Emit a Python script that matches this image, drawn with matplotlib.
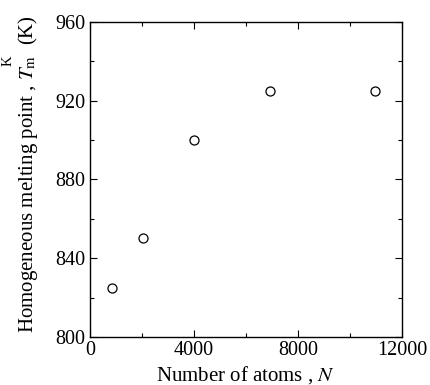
import matplotlib
matplotlib.use("Agg")
import matplotlib.pyplot as plt
from matplotlib.ticker import MultipleLocator

# number of atoms and melting point
n_atoms = [864, 2048, 4000, 6912, 10976]
t_melt = [825, 850, 900, 925, 925]

plt.rcParams['font.family'] = ['Liberation Serif', 'DejaVu Serif']
plt.rcParams['mathtext.fontset'] = 'stix'

W, H = 430, 385
fig = plt.figure(figsize=(W / 100, H / 100), dpi=100)
ax = fig.add_axes([0.209, 0.125, 0.726, 0.818])

ax.plot(n_atoms, t_melt, linestyle='none', marker='o', markersize=6.5,
        markerfacecolor='white', markeredgecolor='black', markeredgewidth=0.9)

ax.set_xlim(0, 12000)
ax.set_ylim(800, 960)
ax.xaxis.set_major_locator(MultipleLocator(4000))
ax.xaxis.set_minor_locator(MultipleLocator(2000))
ax.yaxis.set_major_locator(MultipleLocator(40))
ax.yaxis.set_minor_locator(MultipleLocator(20))
ax.tick_params(which='both', direction='in', top=True, right=True, labelsize=14.5, width=0.8)
ax.tick_params(which='major', length=5)
ax.tick_params(which='minor', length=3)
ax.tick_params(axis='x', pad=3)
ax.tick_params(axis='y', pad=3)
for s in ax.spines.values():
    s.set_linewidth(1.0)

ax.set_xlabel('Number of atoms , $\\mathit{N}$', fontsize=15, labelpad=3)

# y label in pieces so the K sits high above the m
fig.canvas.draw()
renderer = fig.canvas.get_renderer()
t1 = fig.text(33 / W, 1 - 333 / H, 'Homogeneous melting point , $\\mathit{T}_{\\mathrm{m}}$',
              rotation=90, rotation_mode='anchor', ha='left', va='baseline', fontsize=15)
bb = t1.get_window_extent(renderer)
top = bb.y1
fig.text(12 / W, (top - 1) / H, 'K', rotation=90, rotation_mode='anchor',
         ha='right', va='baseline', fontsize=10.5)
fig.text(33 / W, (top + 11) / H, '(K)', rotation=90, rotation_mode='anchor',
         ha='left', va='baseline', fontsize=15)

fig.savefig('out.png', dpi=100)
